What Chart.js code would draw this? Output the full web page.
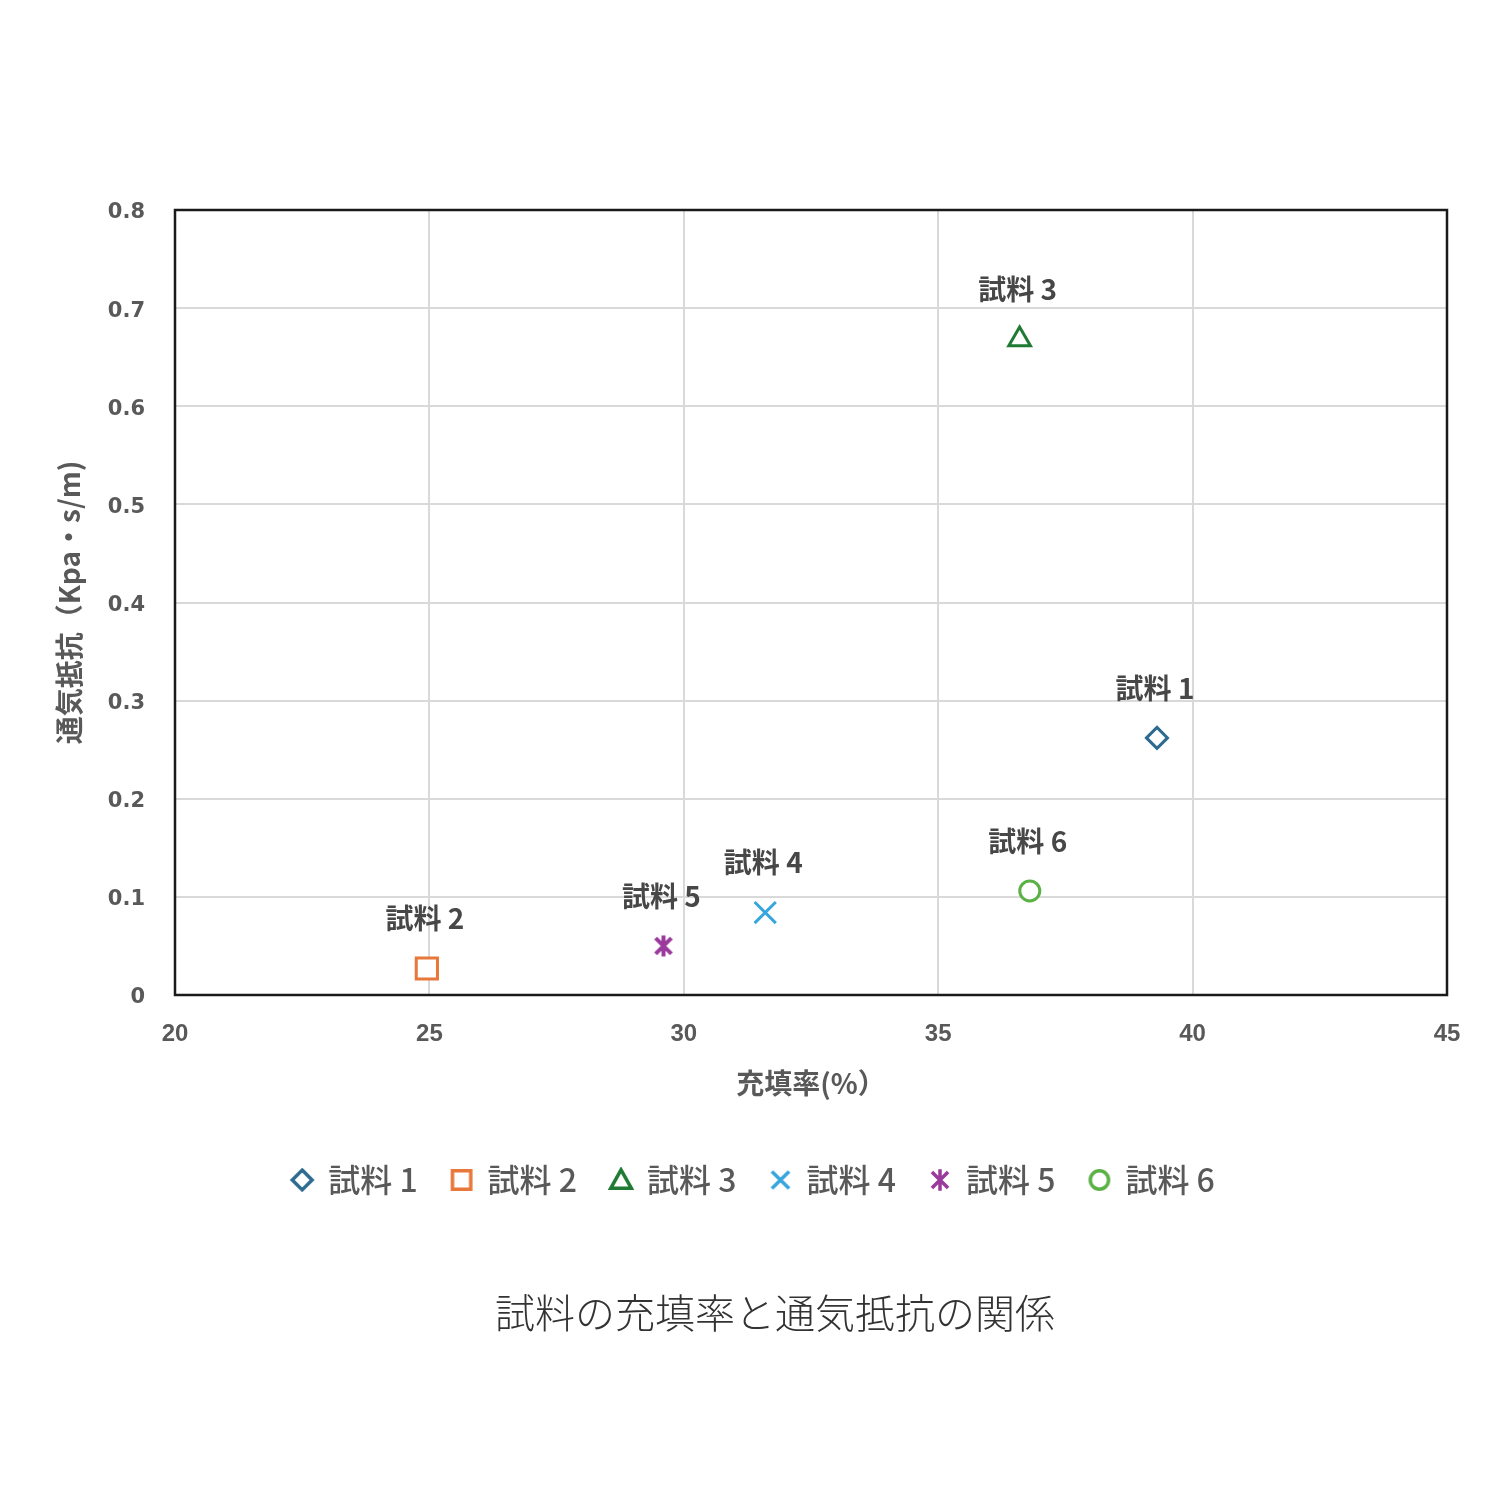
<!DOCTYPE html>
<html>
<head>
<meta charset="utf-8">
<script src="https://cdn.jsdelivr.net/npm/chart.js@4.4.1/dist/chart.umd.min.js"></script>
<style>
  html, body { margin: 0; padding: 0; background: #ffffff; }
  #wrap { position: relative; width: 1500px; height: 1500px; }
  #c { position: absolute; left: 0; top: 0; }
  #title { position: absolute; left: 25px; width: 1500px; top: 1282px; text-align: center;
           font-family: "Noto Sans CJK JP", sans-serif; font-weight: 300; font-size: 40px; color: #333333; }
</style>
</head>
<body>
<div id="wrap">
  <canvas id="c" width="1500" height="1500"></canvas>
  <div id="title">試料の充填率と通気抵抗の関係</div>
</div>
<script>
// ---- data ----
const seriesNames = ['試料 1', '試料 2', '試料 3', '試料 4', '試料 5', '試料 6'];
const fillRate   = [39.3, 24.95, 36.6, 31.6, 29.6, 36.8];     // 充填率(%)
const resistance = [0.262, 0.027, 0.668, 0.084, 0.050, 0.106]; // 通気抵抗
const xTickLabels = ['20', '25', '30', '35', '40', '45'];
const yTickLabels = ['0', '0.1', '0.2', '0.3', '0.4', '0.5', '0.6', '0.7', '0.8'];
const xTitle = '充填率(%）';
const yTitle = '通気抵抗（Kpa・s/m)';

// ---- styles ----
const colors = ['#2c6a90', '#e8773a', '#1f7a33', '#36a6dd', '#9b3a9d', '#5bb146'];
const markerTypes = ['diamond', 'square', 'triangle', 'x', 'star', 'circle'];

function markerCanvas(type, color, size, lw) {
  const cv = document.createElement('canvas');
  cv.width = size; cv.height = size;
  const g = cv.getContext('2d');
  const c = size / 2, h = size / 2 - lw / 2 - 0.5;
  g.strokeStyle = color; g.fillStyle = '#ffffff'; g.lineWidth = lw; g.lineJoin = 'miter';
  g.beginPath();
  if (type === 'diamond') {
    const d = h * 0.92;
    g.moveTo(c, c - d); g.lineTo(c + d, c); g.lineTo(c, c + d); g.lineTo(c - d, c); g.closePath();
    g.fill(); g.stroke();
  } else if (type === 'square') {
    const d = h * 0.85;
    g.rect(c - d, c - d, 2 * d, 2 * d); g.fill(); g.stroke();
  } else if (type === 'triangle') {
    const d = h * 0.95;
    g.moveTo(c, c - d); g.lineTo(c + d, c + d * 0.8); g.lineTo(c - d, c + d * 0.8); g.closePath();
    g.fill(); g.stroke();
  } else if (type === 'x') {
    const d = h * 0.8;
    g.moveTo(c - d, c - d); g.lineTo(c + d, c + d); g.moveTo(c + d, c - d); g.lineTo(c - d, c + d); g.stroke();
  } else if (type === 'star') {
    const d = h * 0.75;
    g.moveTo(c - d, c - d); g.lineTo(c + d, c + d); g.moveTo(c + d, c - d); g.lineTo(c - d, c + d);
    g.moveTo(c, c - h); g.lineTo(c, c + h); g.stroke();
  } else {
    g.arc(c, c, h * 0.85, 0, Math.PI * 2); g.fill(); g.stroke();
  }
  return cv;
}

const pointStyles = ['rectRot', 'rect', 'triangle', 'crossRot', markerCanvas('star', colors[4], 26, 4), 'circle'];
const pointRadii  = [10.5, 15, 12.5, 15, 12, 10];
const legendMarkers = markerTypes.map((t, i) => markerCanvas(t, colors[i], 26, 3.5));

const datasets = seriesNames.map((name, i) => ({
  label: name,
  data: [{ x: fillRate[i], y: resistance[i] }],
  pointStyle: pointStyles[i],
  pointRadius: pointRadii[i],
  pointHoverRadius: pointRadii[i],
  borderColor: colors[i],
  backgroundColor: '#ffffff',
  pointBorderWidth: 3,
  borderWidth: 3
}));

const frame = {
  id: 'frame',
  beforeDatasetsDraw(chart) {
    const a = chart.chartArea, ctx = chart.ctx;
    ctx.save();
    ctx.strokeStyle = '#1a1a1a';
    ctx.lineWidth = 2.5;
    ctx.strokeRect(a.left, a.top, a.right - a.left, a.bottom - a.top);
    ctx.restore();
  }
};

const pointLabels = {
  id: 'pointLabels',
  afterDatasetsDraw(chart) {
    const ctx = chart.ctx;
    ctx.save();
    ctx.font = 'bold 28px "Noto Sans CJK JP", sans-serif';
    ctx.fillStyle = '#474747';
    ctx.textAlign = 'center';
    ctx.textBaseline = 'middle';
    chart.data.datasets.forEach((ds, i) => {
      const el = chart.getDatasetMeta(i).data[0];
      ctx.fillText(ds.label, el.x - 2, el.y - 50);
    });
    ctx.restore();
  }
};

new Chart(document.getElementById('c'), {
  type: 'scatter',
  data: { datasets },
  plugins: [frame, pointLabels],
  options: {
    responsive: false,
    animation: false,
    layout: { padding: { top: 210, right: 53, left: 60, bottom: 294 } },
    plugins: {
      tooltip: { enabled: false },
      title: { display: false },
      legend: {
        position: 'bottom',
        labels: {
          usePointStyle: true,
          boxWidth: 20,
          boxHeight: 14,
          padding: 34,
          color: '#595959',
          font: { family: '"Noto Sans CJK JP", sans-serif', size: 32, weight: '500' },
          generateLabels(chart) {
            const items = Chart.defaults.plugins.legend.labels.generateLabels(chart);
            items.forEach((it, i) => { it.pointStyle = legendMarkers[i]; it.rotation = 0; });
            return items;
          }
        }
      }
    },
    scales: {
      x: {
        type: 'linear', min: 20, max: 45,
        afterFit(s) { s.height = 135; },
        afterBuildTicks(s) { s.ticks = xTickLabels.map(v => ({ value: Number(v) })); },
        ticks: {
          callback: (v, i) => xTickLabels[i],
          padding: 25, color: '#595959',
          font: { family: '"Liberation Sans", Arial, sans-serif', size: 24, weight: 'bold' }
        },
        grid: { color: '#d9d9d9', lineWidth: 2, drawTicks: false },
        border: { display: false },
        title: {
          display: true, text: xTitle, color: '#595959',
          padding: { top: 0, bottom: 30 },
          font: { family: '"Noto Sans CJK JP", sans-serif', size: 28, weight: 'bold' }
        }
      },
      y: {
        type: 'linear', min: 0, max: 0.8,
        afterFit(s) { s.width = 115; },
        afterBuildTicks(s) { s.ticks = yTickLabels.map(v => ({ value: Number(v) })); },
        ticks: {
          callback: (v, i) => yTickLabels[i],
          padding: 30, color: '#595959', labelOffset: 3,
          font: { family: '"DejaVu Sans", sans-serif', size: 21, weight: 'bold' }
        },
        grid: { color: '#d9d9d9', lineWidth: 2, drawTicks: false },
        border: { display: false },
        title: {
          display: true, text: yTitle, color: '#595959',
          padding: { top: -7, bottom: 0 },
          font: { family: '"Noto Sans CJK JP", sans-serif', size: 28, weight: 'bold' }
        }
      }
    }
  }
});
</script>
</body>
</html>
